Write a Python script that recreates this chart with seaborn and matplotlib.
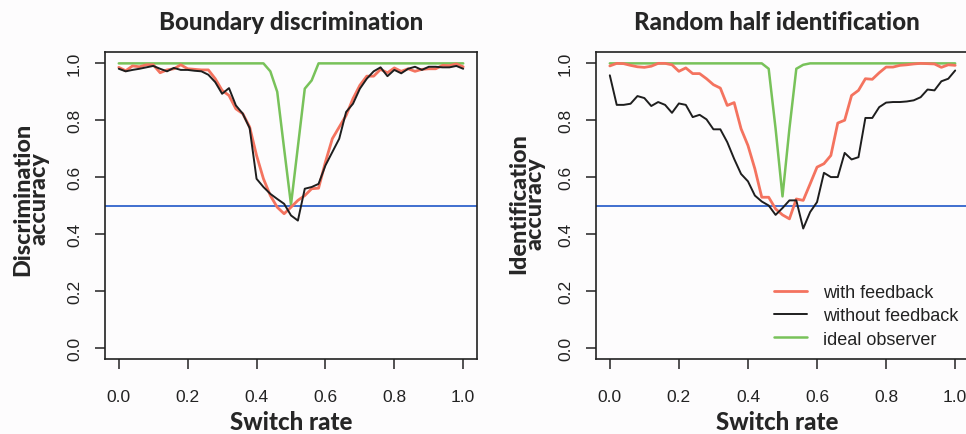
import numpy as np
import pandas as pd
import matplotlib
matplotlib.use("Agg")
import matplotlib.pyplot as plt
from matplotlib.lines import Line2D
import seaborn as sns

switch_rate = [round(0.02 * i, 2) for i in range(51)]

# Boundary discrimination
bd_with = [0.986, 0.974, 0.991, 0.988, 0.995, 0.995, 0.967, 0.977, 0.981, 0.995,
           0.981, 0.979, 0.977, 0.977, 0.946, 0.905, 0.887, 0.840, 0.823, 0.776,
           0.676, 0.594, 0.535, 0.494, 0.471, 0.494, 0.518, 0.535, 0.559, 0.561,
           0.653, 0.735, 0.776, 0.817, 0.876, 0.923, 0.955, 0.955, 0.979, 0.967,
           0.984, 0.972, 0.981, 0.972, 0.979, 0.981, 0.981, 0.993, 0.992, 0.998, 0.988]
bd_without = [0.981, 0.972, 0.977, 0.981, 0.986, 0.991, 0.981, 0.972, 0.984, 0.977,
              0.977, 0.974, 0.972, 0.960, 0.934, 0.893, 0.913, 0.852, 0.823, 0.772,
              0.594, 0.565, 0.541, 0.523, 0.506, 0.465, 0.447, 0.559, 0.565, 0.576,
              0.641, 0.688, 0.735, 0.829, 0.858, 0.911, 0.946, 0.972, 0.986, 0.955,
              0.977, 0.965, 0.981, 0.988, 0.977, 0.988, 0.988, 0.986, 0.986, 0.991, 0.981]
bd_ideal = ([1.0] * 21
            + [1.0, 0.972, 0.900, 0.700, 0.503, 0.707, 0.911, 0.940, 1.0]
            + [1.0] * 21)

# Random half identification
rh_with = [0.991, 1.0, 0.999, 0.993, 0.988, 0.986, 0.990, 1.0, 1.0, 0.995,
           0.972, 0.984, 0.964, 0.964, 0.946, 0.925, 0.913, 0.852, 0.862, 0.770,
           0.711, 0.629, 0.529, 0.529, 0.488, 0.467, 0.453, 0.523, 0.518, 0.576,
           0.635, 0.647, 0.676, 0.790, 0.800, 0.887, 0.905, 0.946, 0.944, 0.967,
           0.987, 0.987, 0.993, 0.995, 0.998, 1.0, 0.999, 0.998, 0.986, 0.995, 0.993]
rh_without = [0.958, 0.854, 0.854, 0.858, 0.885, 0.878, 0.850, 0.864, 0.854, 0.826,
              0.859, 0.854, 0.811, 0.819, 0.803, 0.768, 0.768, 0.723, 0.664, 0.611,
              0.585, 0.535, 0.514, 0.500, 0.467, 0.491, 0.518, 0.518, 0.419, 0.477,
              0.512, 0.615, 0.600, 0.600, 0.685, 0.662, 0.670, 0.808, 0.808, 0.846,
              0.862, 0.864, 0.864, 0.866, 0.870, 0.881, 0.908, 0.905, 0.937, 0.946, 0.975]
rh_ideal = ([1.0] * 23
            + [0.981, 0.770, 0.532, 0.770, 0.981, 0.995]
            + [1.0] * 22)

series_names = ["with feedback", "without feedback", "ideal observer"]
series_colors = ["#f4735f", "#1e1e1e", "#78c25a"]
series_widths = [2.0, 1.4, 1.8]
chance = 0.5
y_ticks = [0.0, 0.2, 0.4, 0.6, 0.8, 1.0]
x_ticks = [0.0, 0.2, 0.4, 0.6, 0.8, 1.0]


def long_df(with_fb, without_fb, ideal):
    frames = []
    for name, vals in zip(series_names, [with_fb, without_fb, ideal]):
        frames.append(pd.DataFrame({"x": switch_rate, "y": vals, "series": name}))
    return pd.concat(frames, ignore_index=True)


sns.set_theme(style="white")
plt.rcParams["font.family"] = ["Liberation Sans", "DejaVu Sans"]

W, H = 966, 435
fig = plt.figure(figsize=(W / 100, H / 100), dpi=100)
fig.patch.set_facecolor("#fdfcfd")

panels = [
    dict(left=105, right=477, title="Boundary discrimination",
         ylabel="Discrimination\naccuracy", ylab_x=31, ylab_y=199,
         center=291, data=(bd_with, bd_without, bd_ideal), legend=False),
    dict(left=596, right=969, title="Random half identification",
         ylabel="Identification\naccuracy", ylab_x=527, ylab_y=204,
         center=777, data=(rh_with, rh_without, rh_ideal), legend=True),
]
top, bottom = 53, 360
title_font = dict(family=["Lato", "DejaVu Sans"], weight="black", size=17.3)
ylab_font = dict(family=["Lato", "DejaVu Sans"], weight="black", size=16.8)

for p in panels:
    ax = fig.add_axes([p["left"] / W, 1 - bottom / H,
                       (p["right"] - p["left"]) / W, (bottom - top) / H])
    ax.set_facecolor("#fdfcfd")
    df = long_df(*p["data"])
    ax.axhline(chance, color="#3f6fcf", lw=1.4, zorder=1)
    sns.lineplot(data=df, x="x", y="y", hue="series", hue_order=series_names,
                 palette=series_colors, ax=ax, legend=False)
    lines = ax.get_lines()[1:]
    for line, lw, z in zip(lines, series_widths, [3, 4, 2]):
        line.set_linewidth(lw)
        line.set_zorder(z)

    ax.set_xlim(-0.04, 1.04)
    ax.set_ylim(-0.04, 1.04)
    ax.set_xticks(x_ticks)
    ax.set_yticks(y_ticks)
    ax.set_xticklabels([f"{t:.1f}" for t in x_ticks])
    ax.set_yticklabels([f"{t:.1f}" for t in y_ticks])
    ax.tick_params(axis="both", direction="out", length=7.5, width=1.1,
                   color="#222222", labelsize=12.5, labelcolor="#222222",
                   bottom=True, left=True)
    ax.tick_params(axis="x", pad=14)
    ax.tick_params(axis="y", pad=9, labelrotation=90)
    for lab in ax.get_yticklabels():
        lab.set_va("center")
    for s in ax.spines.values():
        s.set_color("#222222")
        s.set_linewidth(1.2)
    ax.set_xlabel("")
    ax.set_ylabel("")

    fig.text(p["center"] / W, 1 - 22 / H, p["title"], ha="center", va="center",
             **title_font)
    fig.text(p["center"] / W, 1 - 434 / H, "Switch rate", ha="center",
             va="bottom", **title_font)
    fig.text(p["ylab_x"] / W, 1 - p["ylab_y"] / H, p["ylabel"], ha="center",
             va="center", rotation=90, rotation_mode="anchor",
             multialignment="center", linespacing=0.72, **ylab_font)

    if p["legend"]:
        handles = [Line2D([0], [0], color=c, lw=lw)
                   for c, lw in zip(series_colors, series_widths)]
        ax.legend(handles, series_names, loc="upper left",
                  bbox_to_anchor=(774 / W, 1 - 285 / H),
                  bbox_transform=fig.transFigure,
                  borderaxespad=0, borderpad=0, frameon=False, fontsize=13,
                  handlelength=1.83, handletextpad=0.89, labelspacing=0.35,
                  labelcolor="#222222")

fig.savefig("out.png", dpi=100, facecolor=fig.get_facecolor())
